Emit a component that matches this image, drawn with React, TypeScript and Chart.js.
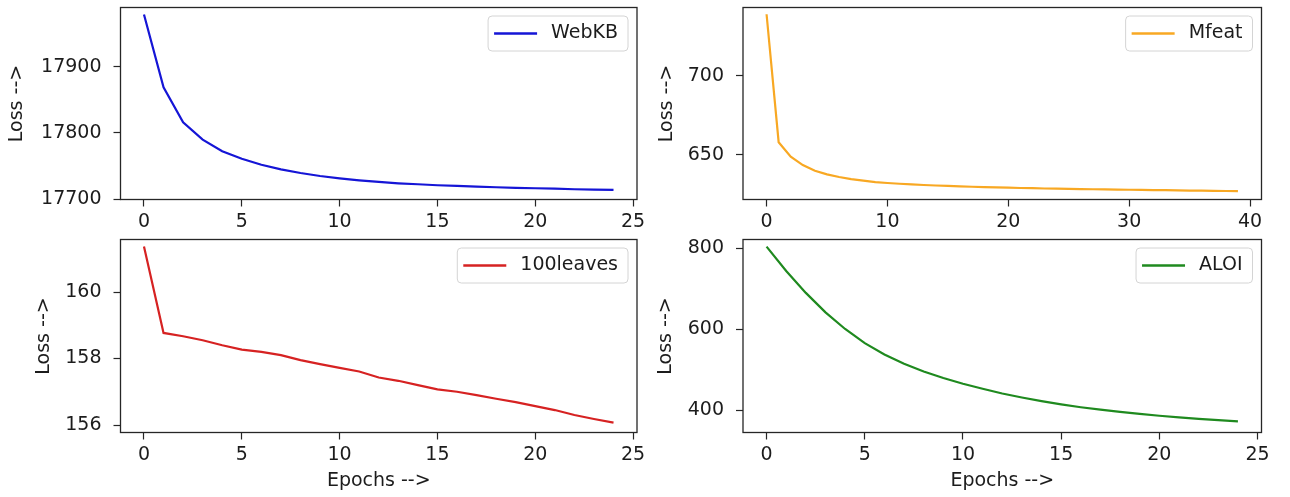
import React, { useEffect, useRef } from 'react';
import { Chart, registerables } from 'chart.js';

Chart.register(...registerables);

const FONT_FAMILY = "'DejaVu Sans', 'Liberation Sans', sans-serif";
const FONT_SIZE = 19;
const TEXT_COLOR = '#1c1c1c';
const FRAME_COLOR = '#262626';

// ---------- data ----------
const epochs25 = Array.from({ length: 25 }, (_, i) => i);
const epochs40 = Array.from({ length: 40 }, (_, i) => i);

const webkbLoss = [
  17979, 17869, 17816, 17790, 17772.5, 17761, 17752, 17745, 17739.5, 17735,
  17731.5, 17728.5, 17726, 17724, 17722.5, 17721, 17720, 17719, 17718, 17717,
  17716.5, 17716, 17715, 17714.5, 17714,
];
const mfeatLoss = [
  739.2, 657.9, 648.7, 643.4, 639.8, 637.5, 635.8, 634.5, 633.5, 632.6,
  632.0, 631.5, 631.1, 630.7, 630.4, 630.1, 629.9, 629.6, 629.4, 629.2,
  629.0, 628.8, 628.7, 628.5, 628.4, 628.2, 628.1, 628.0, 627.9, 627.8,
  627.7, 627.6, 627.5, 627.4, 627.3, 627.2, 627.1, 627.0, 626.9, 626.8,
];
const leavesLoss = [
  161.37, 158.77, 158.67, 158.55, 158.4, 158.27, 158.2, 158.1, 157.95, 157.83,
  157.72, 157.61, 157.43, 157.33, 157.2, 157.07, 157.0, 156.9, 156.79, 156.69,
  156.57, 156.45, 156.3, 156.18, 156.07,
];
const aloiLoss = [
  804, 744, 690, 642, 601, 566, 538, 515, 496, 480,
  466, 453.5, 442, 432, 423, 415, 408, 402, 396.5, 391.5,
  387, 383, 379.5, 376, 373,
];

const xTicks25 = [0, 5, 10, 15, 20, 25];
const xTicks40 = [0, 10, 20, 30, 40];
const webkbTicks = [17700, 17800, 17900];
const mfeatTicks = [650, 700];
const leavesTicks = [156, 158, 160];
const aloiTicks = [400, 600, 800];

const seriesLabels = ['WebKB', 'Mfeat', '100leaves', 'ALOI'];
const xAxisTitle = 'Epochs -->';
const yAxisTitle = 'Loss -->';

// ---------- panel layout ----------
type Panel = {
  cell: { left: number; top: number; width: number; height: number };
  frame: { left: number; top: number; right: number; bottom: number };
  xs: number[];
  ys: number[];
  xRange: [number, number];
  xTicks: number[];
  yRange: [number, number];
  yTicks: number[];
  color: string;
  label: string;
  showXTitle: boolean;
  yTitlePad: number;
};

const panels: Panel[] = [
  {
    cell: { left: 0, top: 0, width: 645, height: 232 },
    frame: { left: 120.5, top: 7.5, right: 637, bottom: 199.5 },
    xs: epochs25, ys: webkbLoss,
    xRange: [-1.2, 25.2], xTicks: xTicks25,
    yRange: [17699.5, 17989.5], yTicks: webkbTicks,
    color: '#1515d6', label: seriesLabels[0], showXTitle: false, yTitlePad: 6,
  },
  {
    cell: { left: 645, top: 0, width: 645, height: 232 },
    frame: { left: 98, top: 7.5, right: 616.5, bottom: 199.5 },
    xs: epochs40, ys: mfeatLoss,
    xRange: [-1.95, 40.95], xTicks: xTicks40,
    yRange: [621.5, 743.5], yTicks: mfeatTicks,
    color: '#f8a823', label: seriesLabels[1], showXTitle: false, yTitlePad: 11,
  },
  {
    cell: { left: 0, top: 232, width: 645, height: 265 },
    frame: { left: 120.5, top: 7.5, right: 637, bottom: 200.5 },
    xs: epochs25, ys: leavesLoss,
    xRange: [-1.2, 25.2], xTicks: xTicks25,
    yRange: [155.775, 161.58], yTicks: leavesTicks,
    color: '#d62222', label: seriesLabels[2], showXTitle: true, yTitlePad: 33,
  },
  {
    cell: { left: 645, top: 232, width: 645, height: 265 },
    frame: { left: 98, top: 7.5, right: 616.5, bottom: 200.5 },
    xs: epochs25, ys: aloiLoss,
    xRange: [-1.2, 25.2], xTicks: xTicks25,
    yRange: [345.7, 821.7], yTicks: aloiTicks,
    color: '#1f8a1f', label: seriesLabels[3], showXTitle: true, yTitlePad: 10,
  },
];

// ---------- plugins ----------
const framePlugin = {
  id: 'mplFrame',
  afterDatasetsDraw(chart: any) {
    const { ctx, chartArea: a } = chart;
    ctx.save();
    ctx.strokeStyle = FRAME_COLOR;
    ctx.lineWidth = 1.3;
    ctx.strokeRect(a.left, a.top, a.right - a.left, a.bottom - a.top);
    ctx.restore();
  },
};

const legendPlugin = {
  id: 'mplLegend',
  afterDraw(chart: any) {
    const { ctx, chartArea: a } = chart;
    const ds = chart.data.datasets[0];
    ctx.save();
    ctx.font = `${FONT_SIZE}px ${FONT_FAMILY}`;
    const tw = ctx.measureText(ds.label).width;
    const h = 35;
    const right = a.right - 9;
    const top = a.top + 8.5;
    const w = 6 + 43 + 14 + tw + 10;
    const left = right - w;
    const r = 4;
    ctx.beginPath();
    ctx.moveTo(left + r, top);
    ctx.lineTo(right - r, top);
    ctx.quadraticCurveTo(right, top, right, top + r);
    ctx.lineTo(right, top + h - r);
    ctx.quadraticCurveTo(right, top + h, right - r, top + h);
    ctx.lineTo(left + r, top + h);
    ctx.quadraticCurveTo(left, top + h, left, top + h - r);
    ctx.lineTo(left, top + r);
    ctx.quadraticCurveTo(left, top, left + r, top);
    ctx.closePath();
    ctx.fillStyle = 'rgba(255,255,255,0.8)';
    ctx.fill();
    ctx.strokeStyle = '#d4d4d4';
    ctx.lineWidth = 1;
    ctx.stroke();
    const cy = top + h / 2;
    ctx.beginPath();
    ctx.moveTo(left + 6, cy);
    ctx.lineTo(left + 49, cy);
    ctx.strokeStyle = ds.borderColor;
    ctx.lineWidth = 2.6;
    ctx.stroke();
    ctx.fillStyle = TEXT_COLOR;
    ctx.textBaseline = 'middle';
    ctx.textAlign = 'left';
    ctx.fillText(ds.label, left + 63, cy);
    ctx.restore();
  },
};

function PanelChart({ panel }: { panel: Panel }) {
  const ref = useRef<HTMLCanvasElement>(null);
  useEffect(() => {
    const canvas = ref.current;
    if (!canvas) return;
    const p = panel;
    const font = { family: FONT_FAMILY, size: FONT_SIZE };
    const gridOpts = {
      display: true,
      drawOnChartArea: false,
      drawTicks: true,
      tickLength: 7,
      tickColor: FRAME_COLOR,
      tickWidth: 1.2,
    };
    const chart = new Chart(canvas, {
      type: 'line',
      data: {
        datasets: [
          {
            label: p.label,
            data: p.xs.map((x, i) => ({ x, y: p.ys[i] })),
            borderColor: p.color,
            backgroundColor: p.color,
            borderWidth: 2.2,
            pointRadius: 0,
            tension: 0,
            fill: false,
          },
        ],
      },
      options: {
        responsive: false,
        animation: false,
        devicePixelRatio: 1,
        layout: {
          padding: {
            left: 0,
            top: p.frame.top,
            right: p.cell.width - p.frame.right,
            bottom: 0,
          },
        },
        plugins: {
          legend: { display: false },
          tooltip: { enabled: false },
        },
        scales: {
          x: {
            type: 'linear',
            min: p.xRange[0],
            max: p.xRange[1],
            afterBuildTicks: (s: any) => {
              s.ticks = p.xTicks.map((v) => ({ value: v }));
            },
            afterFit: (s: any) => {
              s.height = p.cell.height - p.frame.bottom;
              s.paddingLeft = 0;
              s.paddingRight = 0;
            },
            grid: gridOpts,
            border: { display: false },
            ticks: {
              color: TEXT_COLOR,
              font,
              padding: 4,
              maxRotation: 0,
              autoSkip: false,
              callback: (v: any) => String(v),
            },
            title: {
              display: p.showXTitle,
              text: xAxisTitle,
              color: TEXT_COLOR,
              font,
              padding: { top: 0, bottom: 5 },
            },
          },
          y: {
            type: 'linear',
            min: p.yRange[0],
            max: p.yRange[1],
            afterBuildTicks: (s: any) => {
              s.ticks = p.yTicks.map((v) => ({ value: v }));
            },
            afterFit: (s: any) => {
              s.width = p.frame.left;
              s.paddingTop = 0;
              s.paddingBottom = 0;
            },
            grid: gridOpts,
            border: { display: false },
            ticks: {
              color: TEXT_COLOR,
              font,
              padding: 12,
              autoSkip: false,
              callback: (v: any) => String(v),
            },
            title: {
              display: true,
              text: yAxisTitle,
              color: TEXT_COLOR,
              font,
              padding: { top: p.yTitlePad, bottom: 0 },
            },
          },
        },
      },
      plugins: [framePlugin, legendPlugin],
    } as any);
    return () => chart.destroy();
  }, [panel]);

  return (
    <canvas
      ref={ref}
      width={panel.cell.width}
      height={panel.cell.height}
      style={{
        position: 'absolute',
        left: panel.cell.left,
        top: panel.cell.top,
        width: panel.cell.width,
        height: panel.cell.height,
      }}
    />
  );
}

export default function App() {
  return (
    <div
      style={{
        position: 'absolute',
        left: 0,
        top: 0,
        width: 1290,
        height: 497,
        background: '#ffffff',
        overflow: 'hidden',
      }}
    >
      {panels.map((p, i) => (
        <PanelChart key={i} panel={p} />
      ))}
    </div>
  );
}
